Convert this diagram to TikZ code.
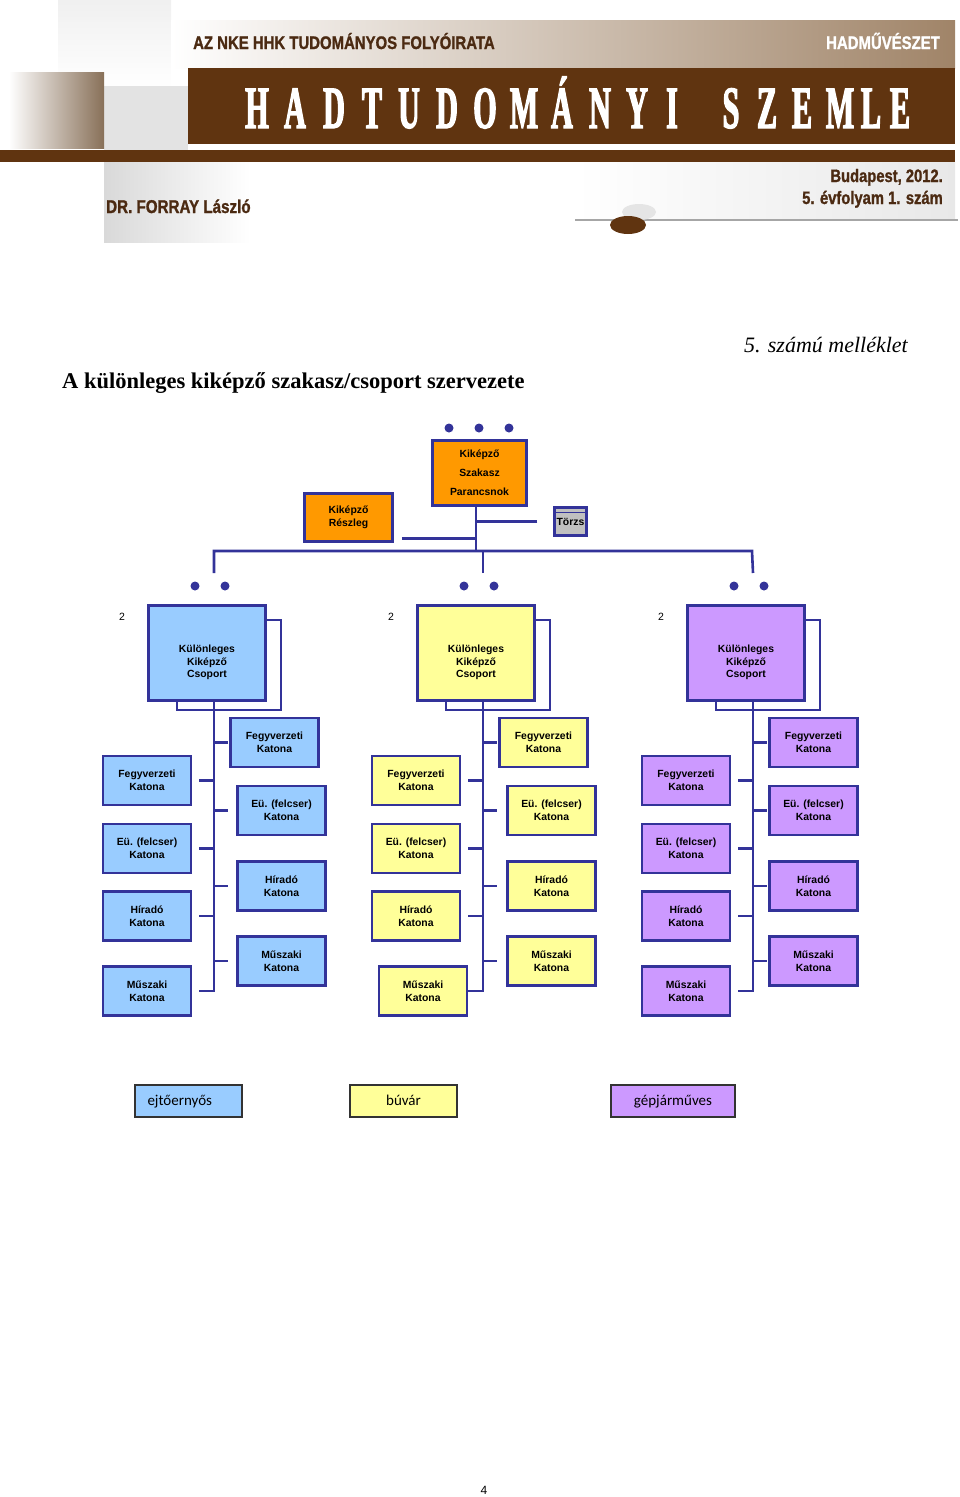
\documentclass[tikz,border=0pt]{standalone}
\usepackage{fontspec}
\setmainfont{Liberation Serif}
\setsansfont{Liberation Sans}
\newfontfamily\hdcond[FakeStretch=0.82,FakeBold=1.2]{Liberation Sans}
\newfontfamily\ttlfont[FakeStretch=0.5,FakeBold=2]{Liberation Serif}
\newfontfamily\legfont{Carlito}
\usetikzlibrary{positioning}

\definecolor{hdbrown}{HTML}{603410}
\definecolor{hddark}{HTML}{4B2A12}
\definecolor{hdtan}{HTML}{A08468}
\definecolor{navy}{HTML}{333399}
\definecolor{kblue}{HTML}{99CCFF}
\definecolor{kyellow}{HTML}{FFFF99}
\definecolor{kpurple}{HTML}{CC99FF}
\definecolor{korange}{HTML}{FF9900}
\definecolor{kgray}{HTML}{C0C0C0}

\tikzset{
  egyseg/.style={draw=navy, line width=2.6pt, align=center, inner sep=0pt,
    font=\sffamily\bfseries\fontsize{10.4}{13}\selectfont},
  katona/.style={egyseg, minimum width=88pt, minimum height=49pt},
  csoport/.style={egyseg, minimum width=117pt, minimum height=95pt},
  vonal/.style={draw=navy, line width=2.6pt},
  jelkulcs/.style={draw=black!80, line width=1.3pt, minimum width=107pt,
    minimum height=32pt, inner sep=0pt, text height=11pt, text depth=2pt,
    font=\legfont\fontsize{15}{15}\selectfont},
  fejszoveg/.style={inner sep=0pt, text=hddark, font=\hdcond\bfseries\fontsize{18.2}{18}\selectfont},
}

\begin{document}
\begin{tikzpicture}[x=1pt,y=-1pt]
\useasboundingbox (0,0) rectangle (960,1497);

% fejlec
\shade[top color=gray!12, bottom color=white] (58,0) rectangle (171,88);
\fill[gray!22] (104,86) rectangle (188,150);
\shade[left color=white, right color=hdtan!85!black] (9,72) rectangle (104,148);
\shade[left color=white, right color=hdtan] (171,20) rectangle (955,68);
\fill[hdbrown] (188,68) rectangle (955,144);
\fill[hdbrown] (0,150) rectangle (955,162);
\shade[left color=gray!30, right color=white] (104,162) rectangle (250,242);
\shade[left color=white, right color=gray!18] (575,162) rectangle (955,218);
\draw[gray!70, line width=1.5pt] (575,220) -- (958,220);
\fill[gray!20] (639,212) ellipse (17 and 8);
\fill[hdbrown] (628,225) ellipse (18 and 9);

\node[fejszoveg, anchor=base west] at (193,49) {AZ NKE HHK TUDOMÁNYOS FOLYÓIRATA};
\node[fejszoveg, anchor=base east, text=white] at (940,49) {HADMŰVÉSZET};
\foreach \l/\xx in {H/257, A/295, D/334, T/372, U/409, D/447, O/485, M/524, Á/562,
    N/600, Y/637, I/672, S/731, Z/767, E/802, M/840, L/871, E/900}
  \node[anchor=base, inner sep=0pt, text=white, font=\ttlfont\bfseries\fontsize{60}{60}\selectfont] at (\xx,128) {\l};
\node[fejszoveg, anchor=base west, font=\hdcond\bfseries\fontsize{18.5}{18}\selectfont] at (106,213) {DR. FORRAY László};
\node[fejszoveg, anchor=base east, font=\hdcond\bfseries\fontsize{18}{18}\selectfont] at (943,182) {Budapest, 2012.};
\node[fejszoveg, anchor=base east, font=\hdcond\bfseries\fontsize{18}{18}\selectfont] at (943,204) {5. évfolyam 1. szám};

% cimek
\node[anchor=base east, inner sep=0pt, font=\itshape\fontsize{22}{22}\selectfont] at (908,352) {5. számú melléklet};
\node[anchor=base west, inner sep=0pt, font=\bfseries\fontsize{22.5}{22}\selectfont] at (62,388) {A különleges kiképző szakasz/csoport szervezete};

% szakasz vezetes
\foreach \xx in {449,479,509} \fill[navy] (\xx,428) circle (4.5);
\node[egyseg, fill=korange, minimum width=94pt, minimum height=65pt,
  font=\sffamily\bfseries\fontsize{10.4}{19}\selectfont] (psz) at (479.5,473) {Kiképző\\Szakasz\\Parancsnok};
\node[egyseg, fill=korange, minimum width=88pt, minimum height=48pt] (resz) at (348.5,517.5) {Kiképző\\Részleg};
\node[egyseg, fill=kgray, line width=2.4pt, minimum width=32pt, minimum height=28pt] (torzs) at (570.5,521.5) {Törzs};
\draw[navy, line width=1.5pt] ([yshift=-6pt]torzs.north west) -- ([yshift=-6pt]torzs.north east);

\coordinate (busl) at (214,551);
\coordinate (busr) at (752,551);
\draw[vonal] ([xshift=-3.5pt]psz.south) coordinate (pfoot) -- (pfoot |- busl);
\draw[vonal] ([xshift=-16pt]torzs.west) -- (pfoot |- torzs.west);
\coordinate (rstub) at ([shift={(8pt,4.5pt)}]resz.south east);
\draw[vonal] (rstub) -- (pfoot |- rstub);

% csoportok
\foreach \g/\sx/\kfill/\rsh/\msh in {1/214/kblue/7/0, 2/483/kyellow/8/7, 3/753/kpurple/0/0}{
  \coordinate (top\g) at (\sx,573);
  \fill[navy] (\sx-19,586) circle (4.5) (\sx+11,586) circle (4.5);
  \node[inner sep=0pt, font=\sffamily\fontsize{10.5}{11}\selectfont] at (\sx-92,616.5) {2};
  \draw[vonal] (\sx-37,620) rectangle (\sx+67,710);
  \node[csoport, fill=\kfill,
    label={[egyseg, draw=none, yshift=-9.5pt, font=\sffamily\bfseries\fontsize{10.4}{12.5}\selectfont]center:{Különleges\\Kiképző\\Csoport}}]
    (cs\g) at (\sx-7,653) {};
  \node[katona, fill=\kfill] (rf\g) at (\sx+60.5,742.5) {Fegyverzeti\\Katona};
  \node[katona, fill=\kfill] (re\g) at (\sx+60.5+\rsh,810.5) {Eü. (felcser)\\Katona};
  \node[katona, fill=\kfill] (rh\g) at (\sx+60.5+\rsh,886) {Híradó\\Katona};
  \node[katona, fill=\kfill] (rm\g) at (\sx+60.5+\rsh,961) {Műszaki\\Katona};
  \node[katona, fill=\kfill] (lf\g) at (\sx-67,780.5) {Fegyverzeti\\Katona};
  \node[katona, fill=\kfill] (le\g) at (\sx-67,848.5) {Eü. (felcser)\\Katona};
  \node[katona, fill=\kfill] (lh\g) at (\sx-67,916) {Híradó\\Katona};
  \node[katona, fill=\kfill] (lm\g) at (\sx-67+\msh,991) {Műszaki\\Katona};
  \draw[vonal] (cs\g.south -| top\g) -- (top\g |- lm\g.east) -- ++(-15,0);
  \foreach \n in {rf,re,rh,rm} \draw[vonal] (top\g |- \n\g.west) -- ++(14,0);
  \foreach \n in {lf,le,lh} \draw[vonal] (top\g |- \n\g.east) -- ++(-15,0);
}
\draw[vonal] (top1) -- (busl) -- (busr) -- (top3);
\draw[vonal] (top2) -- (top2 |- busl);

% jelmagyarazat
\node[jelkulcs, fill=kblue, text width=82pt, inner xsep=12.5pt, align=left] (ejto) at (188.5,1101) {ejtőernyős};
\node[jelkulcs, fill=kyellow] (buvar) at (403.5,1101) {búvár};
\node[jelkulcs, fill=kpurple, minimum width=124pt] (gepj) at (673,1101) {gépjárműves};

\node[anchor=base, inner sep=0pt, font=\sffamily\fontsize{12}{12}\selectfont] at (484,1494) {4};
\end{tikzpicture}
\end{document}
